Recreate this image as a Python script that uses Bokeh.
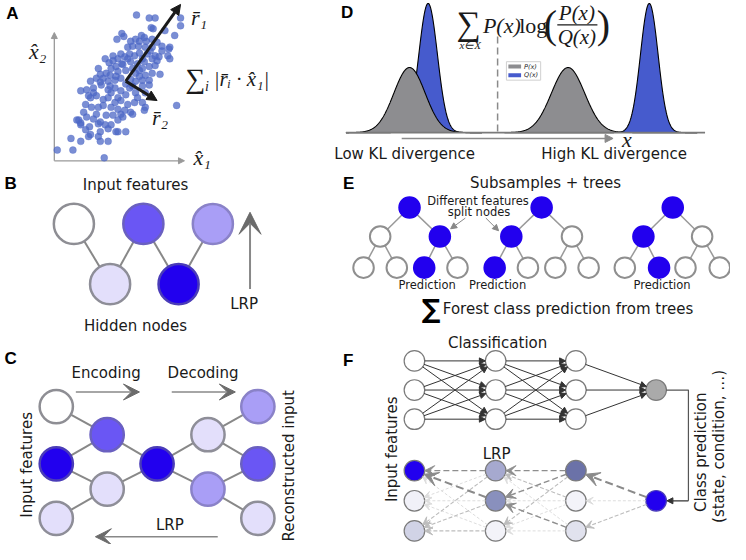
import numpy as np
from bokeh.plotting import figure
from bokeh.models import Range1d, Arrow, VeeHead, NormalHead
from bokeh.core.properties import value
from bokeh.embed import file_html
from bokeh.resources import INLINE

# ======================= DATA =======================
# --- A: scatter of samples (axis units: x1 to the right, x2 upwards from the axis origin)
a_x1 = [84, 97, 103, 129, 129, 99, 101, 113, 69, 64, 71, 89, 92, 83, 78, 87, 94, 100, 123, 105,
        110, 118, 100, 80, 75, 86, 93, 98, 68, 60, 52, 56, 65, 72, 77, 82, 87, 95, 103, 116,
        118, 107, 100, 92, 85, 78, 69, 63, 58, 53, 47, 43, 50, 57, 65, 73, 80, 90, 97, 103,
        108, 100, 93, 87, 83, 78, 68, 62, 55, 47, 90, 97,
        117, 60, 45, 37, 33, 35, 27, 32, 25, 27, 17, 27, 3, 19, 51, 125, 45, 55, 63, 73, 35, 55, 45, 78, 92, 68,
        40, 48, 55, 62, 68, 77, 83, 90, 97, 43, 50, 55, 62, 68, 75, 82, 90, 93, 37, 38, 45, 50, 58, 65, 72, 80,
        70, 65, 58, 52, 47, 40, 33, 36, 32, 27, 47, 65, 37, 47, 53, 60, 43, 30, 23,
        70, 83, 90, 63, 73, 80, 87, 75, 105, 110, 57, 65, 73, 85, 58, 40, 93]
a_x2 = [150, 147, 147, 147, 139, 137, 136, 134, 131, 125, 128, 129, 127, 125, 123, 123, 123, 125, 129, 122,
        118, 117, 117, 118, 117, 118, 117, 113, 110, 108, 105, 101, 105, 107, 110, 108, 111, 110, 108, 108,
        105, 107, 105, 102, 100, 102, 100, 97, 95, 90, 89, 85, 85, 88, 92, 93, 95, 95, 97, 98,
        89, 90, 88, 87, 82, 84, 85, 83, 82, 81, 83, 83,
        115, 103, 95, 82, 73, 67, 72, 58, 42, 39, 23, 20, 11, 11, 3, 57, 25, 20, 30, 30, 25, 33, 38, 50, 52, 48,
        75, 78, 73, 75, 72, 75, 70, 77, 78, 67, 63, 65, 60, 62, 58, 60, 60, 55, 65, 55, 55, 57, 55, 53, 52, 48,
        45, 42, 37, 37, 40, 43, 45, 35, 32, 37, 30, 30, 27, 20, 47, 47, 48, 50, 42,
        99, 90, 105, 87, 79, 77, 93, 105, 103, 113, 77, 65, 68, 65, 70, 70, 70]
a_centre = [73, 82]   # start of the two component vectors
a_r1 = [129, 161]     # tip of r1
a_r2 = [105, 62]      # tip of r2

# --- relevance colour scale for B and C (0 = none ... 4 = highest)
rel_palette = ["#ffffff", "#e3dffb", "#a99ef6", "#6a56f4", "#2200ee"]

# --- B: input features / hidden nodes
b_in_rel = [0, 3, 2]
b_hid_rel = [1, 4]
b_edges = [(0, 0), (1, 0), (1, 1), (2, 1)]

# --- C: autoencoder, relevance per layer
c_rel = [[0, 4, 1], [3, 1], [4], [1, 2], [2, 3, 1]]
c_edges = [((0, 0), (1, 0)), ((0, 1), (1, 0)), ((0, 1), (1, 1)), ((0, 2), (1, 1)),
           ((1, 0), (2, 0)), ((1, 1), (2, 0)), ((2, 0), (3, 0)), ((2, 0), (3, 1)),
           ((3, 0), (4, 0)), ((3, 0), (4, 1)), ((3, 1), (4, 1)), ((3, 1), (4, 2))]

# --- D: densities P (grey) and Q (blue): mean, sd, peak height
d_titles = ["Low KL divergence", "High KL divergence"]
d_p_mean = [418, 580]
d_p_sd = [16.0, 17.0]
d_p_peak = [67, 67]
d_q_mean = [437, 663]
d_q_sd = [9.5, 9.0]
d_q_peak = [133, 133]

# --- E: three trees (7 nodes each: root, 2 children, 4 leaves); 1 = split on feature / prediction
e_selected = [[1, 0, 1, 0, 0, 1, 0],
              [1, 1, 0, 1, 0, 0, 0],
              [1, 1, 0, 0, 1, 0, 0]]
e_prediction_leaf = [5, 3, 4]

# --- F: classifier and LRP relevances
f_lrp_colors = [["#2200ee", "#f1f1f8", "#d1d3e6"],
                ["#a6a9cf", "#8990bd", "#f3f3f9"],
                ["#6b72a8", "#f3f3f9", "#e1e2ee"]]
f_out_color = "#2200ee"
# relevance flow strength (0 faint .. 3 strong), [from row][to row]
f_rel_out = [3, 0, 1]
f_rel_32 = [[2, 2, 1], [1, 0, 0], [0, 2, 0]]
f_rel_21 = [[2, 0, 1], [3, 0, 1], [0, 0, 1]]

# ======================= LAYOUT / STYLE =======================
W, H = 746, 560
p = figure(width=730, height=544, x_range=Range1d(0, W), y_range=Range1d(H, 0),
           x_axis_type=None, y_axis_type=None, output_backend="svg",
           toolbar_location=None, min_border=0)
p.grid.visible = False
p.outline_line_color = None
p.background_fill_color = "white"

SANS = "DejaVu Sans"
SERIF = "Liberation Serif"
TXT = "#1a1a1a"


def txt(x, y, s, size=15, font=SANS, align="center", baseline="middle", color=TXT, style="normal", angle=0.0):
    p.text(x=[x], y=[y], text=[s], text_font=value(font), text_font_size=f"{size}px",
           text_align=align, text_baseline=baseline, text_color=color, text_font_style=style, angle=angle)


def arrow(x0, y0, x1, y1, color, width=1.5, head="vee", size=10, dash="solid", head_color=None):
    hc = head_color or color
    if head == "vee":
        h = VeeHead(size=size, fill_color=hc, line_color=hc, line_width=1)
    else:
        h = NormalHead(size=size, fill_color=hc, line_color=hc, line_width=1)
    p.add_layout(Arrow(end=h, x_start=x0, y_start=y0, x_end=x1, y_end=y1,
                       line_color=color, line_width=width, line_dash=dash))


def panel_letter(x, y, s):
    txt(x, y, s, size=17, font="Liberation Sans", align="left", style="bold", color="black")


# ---------------- Panel A ----------------
OX, OY = 55, 165
p.line([OX, OX], [OY, 36], line_color="#999999", line_width=1.3)
p.line([OX, 184], [OY, OY], line_color="#999999", line_width=1.3)
arrow(OX, 40, OX, 33, "#999999", width=1.3, head="normal", size=6)
arrow(182, OY, 188, OY, "#999999", width=1.3, head="normal", size=6)
sx = [OX + v for v in a_x1]
sy = [OY - v for v in a_x2]
p.scatter(sx, sy, size=7, fill_color="#4d68c6", fill_alpha=0.75, line_color="#4d68c6", line_alpha=0.3)
cx, cy = OX + a_centre[0], OY - a_centre[1]
arrow(cx, cy, OX + a_r1[0], OY - a_r1[1], "#1a1a1a", width=3, head="normal", size=10)
arrow(cx, cy, OX + a_r2[0], OY - a_r2[1], "#1a1a1a", width=3, head="normal", size=10)
panel_letter(6, 13, "A")
txt(38, 52, "x\u0302\u2082", size=22, font=SERIF, style="italic")
txt(206, 162, "x\u0302\u2081", size=22, font=SERIF, style="italic")
txt(203, 17, "r\u0304\u2081", size=22, font=SERIF, style="italic")
txt(163, 120, "r\u0304\u2082", size=22, font=SERIF, style="italic")
txt(199, 80, "\u2211", size=28, font=SERIF)
txt(211, 89, "i", size=14, font=SERIF, style="italic")
txt(218, 81, "|r\u0304\u1d62 \u00b7 x\u0302\u2081|", size=21, font=SERIF, style="italic", align="left")

# ---------------- Panel B ----------------
b_in_x, b_in_y = [75, 146, 217], 230
b_hid_x, b_hid_y = [112, 182], 292
for i, j in b_edges:
    p.line([b_in_x[i], b_hid_x[j]], [b_in_y, b_hid_y], line_color="#888888", line_width=2)


def node_stroke(level):
    return ["#8e8e94", "#8e8e98", "#8a82c8", "#6a60c0", "#4a3cb8"][level]


p.circle(b_in_x, [b_in_y] * 3, radius=20.5, fill_color=[rel_palette[r] for r in b_in_rel],
         line_color=[node_stroke(r) for r in b_in_rel], line_width=2.5)
p.circle(b_hid_x, [b_hid_y] * 2, radius=20.5, fill_color=[rel_palette[r] for r in b_hid_rel],
         line_color=[node_stroke(r) for r in b_hid_rel], line_width=2.5)
arrow(255, 297, 255, 218, "#888888", width=2, head="vee", size=22, head_color="#6b6b6b")
panel_letter(4, 188, "B")
txt(138, 190, "Input features")
txt(138, 335, "Hidden nodes")
txt(249, 312, "LRP")

# ---------------- Panel C ----------------
c_x = [57, 109, 160, 212, 263]
c_y = [[418, 477, 533], [447, 503], [477], [447, 503], [418, 477, 533]]
for (l0, r0), (l1, r1) in c_edges:
    p.line([c_x[l0], c_x[l1]], [c_y[l0][r0], c_y[l1][r1]], line_color="#888888", line_width=2)
for li, rels in enumerate(c_rel):
    p.circle([c_x[li]] * len(rels), c_y[li], radius=17, fill_color=[rel_palette[r] for r in rels],
             line_color=[node_stroke(r) for r in rels], line_width=2.5)
arrow(77, 403, 142, 403, "#888888", width=1.6, head="vee", size=16, head_color="#6b6b6b")
arrow(175, 403, 240, 403, "#888888", width=1.6, head="vee", size=16, head_color="#6b6b6b")
arrow(222, 552, 97, 552, "#888888", width=1.6, head="vee", size=16, head_color="#6b6b6b")
panel_letter(4, 369, "C")
txt(108, 383, "Encoding")
txt(207, 383, "Decoding")
txt(173, 540, "LRP")
txt(27, 478, "Input features", angle=np.pi / 2)
txt(295, 479, "Reconstructed input", angle=np.pi / 2)

# ---------------- Panel D ----------------
BASE = 136
ranges = [(353, 492), (515, 712)]
for k in range(2):
    xs = np.linspace(ranges[k][0], ranges[k][1], 400)
    q = d_q_peak[k] * np.exp(-0.5 * ((xs - d_q_mean[k]) / d_q_sd[k]) ** 2)
    pp = d_p_peak[k] * np.exp(-0.5 * ((xs - d_p_mean[k]) / d_p_sd[k]) ** 2)
    px = np.concatenate([xs, xs[::-1]])
    p.patch(px, np.concatenate([BASE - q, np.full_like(xs, BASE)]), fill_color="#465bcd",
            line_color=None)
    p.line(xs, BASE - q, line_color="black", line_width=1.1)
    p.patch(px, np.concatenate([BASE - pp, np.full_like(xs, BASE)]), fill_color="#8d8d90",
            line_color=None)
    p.line(xs, BASE - pp, line_color="black", line_width=1.1)
p.line([353, 720], [BASE, BASE], line_color="#7a7a7a", line_width=1.6)
p.line([508, 508], [37, BASE], line_color="#8a8a8a", line_width=1.5, line_dash="7 4")
arrow(410, 142, 626, 142, "#8a8a8a", width=1.5, head="normal", size=8)
txt(640, 143, "x", size=22, font=SERIF, style="italic")
txt(413, 158, d_titles[0])
txt(627, 158, d_titles[1])
panel_letter(348, 12, "D")
# legend
p.quad(left=[517], right=[552], top=[63], bottom=[82], fill_color="white", line_color="#d0d0d0", line_width=1)
p.quad(left=[519], right=[532], top=[66], bottom=[70], fill_color="#8d8d90", line_color=None)
p.quad(left=[519], right=[532], top=[75], bottom=[79], fill_color="#465bcd", line_color=None)
txt(535, 68, "P(x)", size=6.5, align="left", style="italic")
txt(535, 77, "Q(x)", size=6.5, align="left", style="italic")
# KL formula
txt(478, 24, "\u2211", size=34, font=SERIF)
txt(480, 46, "x\u2208X", size=11, font=SERIF, style="italic")
txt(493, 26, "P(x)", size=22, font=SERIF, style="italic", align="left")
txt(530, 26, "log", size=22, font=SERIF, align="left")
txt(562, 25, "(", size=40, font=SERIF, color="#1a1a1a")
txt(616, 25, ")", size=40, font=SERIF, color="#1a1a1a")
txt(589, 13, "P(x)", size=21, font=SERIF, style="italic")
p.line([569, 610], [25, 25], line_color="#1a1a1a", line_width=1.2)
txt(589, 38, "Q(x)", size=21, font=SERIF, style="italic")

# ---------------- Panel E ----------------
e_x = [[418, 388, 449, 371, 405, 433, 467],
       [553, 522, 584, 505, 539, 567, 601],
       [687, 657, 717, 638, 673, 700, 735]]
e_y = [213, 243, 243, 275, 275, 275, 275]
e_parent = [None, 0, 0, 1, 1, 2, 2]
for t in range(3):
    for n in range(1, 7):
        pa = e_parent[n]
        p.line([e_x[t][pa], e_x[t][n]], [e_y[pa], e_y[n]], line_color="#999999", line_width=1.5)
    fills = ["#2200ee" if s else "white" for s in e_selected[t]]
    lines = ["#2200ee" if s else "#8f8f8f" for s in e_selected[t]]
    p.circle(e_x[t], e_y, radius=10.5, fill_color=fills, line_color=lines, line_width=2)
    txt(e_x[t][e_prediction_leaf[t]] + 3, 293, "Prediction", size=11.5)
panel_letter(350, 188, "E")
txt(557, 188, "Subsamples + trees")
txt(488, 206, "Different features", size=11.5)
txt(489, 218, "split nodes", size=11.5)
arrow(475, 224, 460, 235, "#888888", width=1, head="normal", size=6)
arrow(496, 224, 509, 237, "#888888", width=1, head="normal", size=6)
txt(440, 318, "\u2211", size=26, font=SANS, style="bold", color="black")
txt(452, 318, "Forest class prediction from trees", align="left")

# ---------------- Panel F ----------------
f_x = [423, 506, 588, 670]
f_up_y = [371, 401, 431]
f_lo_y = [484, 515, 546]
RF = 10.5


def edge_pts(x0, y0, x1, y1, r0=RF, r1=RF):
    d = np.hypot(x1 - x0, y1 - y0)
    ux, uy = (x1 - x0) / d, (y1 - y0) / d
    return x0 + ux * r0, y0 + uy * r0, x1 - ux * r1, y1 - uy * r1


for L in range(2):
    for i in range(3):
        for j in range(3):
            a, b, c, d = edge_pts(f_x[L], f_up_y[i], f_x[L + 1], f_up_y[j])
            arrow(a, b, c, d, "#333333", width=1, head="normal", size=6)
for i in range(3):
    a, b, c, d = edge_pts(f_x[2], f_up_y[i], f_x[3], 401)
    arrow(a, b, c, d, "#333333", width=1, head="normal", size=6)

lvl_color = ["#dddddd", "#bdbdbd", "#8e8e8e", "#8a8a8a"]
lvl_width = [1, 1.1, 1.4, 2.0]
lvl_dash = ["3 2", "4 2", "6 3", "8 4"]
lvl_head = [7, 8, 10, 14]


def lrp_arrow(x0, y0, x1, y1, lv):
    a, b, c, d = edge_pts(x0, y0, x1, y1)
    arrow(a, b, c, d, lvl_color[lv], width=lvl_width[lv], head="vee", size=lvl_head[lv], dash=lvl_dash[lv])


# draw faint ones first
for order in range(4):
    for j in range(3):
        if f_rel_out[j] == order:
            lrp_arrow(f_x[3], 515, f_x[2], f_lo_y[j], order)
    for i in range(3):
        for j in range(3):
            if f_rel_32[i][j] == order:
                lrp_arrow(f_x[2], f_lo_y[i], f_x[1], f_lo_y[j], order)
            if f_rel_21[i][j] == order:
                lrp_arrow(f_x[1], f_lo_y[i], f_x[0], f_lo_y[j], order)

for L in range(3):
    p.circle([f_x[L]] * 3, f_up_y, radius=RF, fill_color="white", line_color="#7a7a7a", line_width=1.2)
p.circle([f_x[3]], [401], radius=RF, fill_color="#aaaaaa", line_color="#7a7a7a", line_width=1.2)
for L in range(3):
    p.circle([f_x[L]] * 3, f_lo_y, radius=RF, fill_color=f_lrp_colors[L], line_color="#7a7a7a", line_width=1.2)
p.circle([f_x[3]], [515], radius=RF, fill_color=f_out_color, line_color="#4a3cb8", line_width=1.2)

p.line([f_x[3] + RF, 703, 703], [401, 401, 515], line_color="#555555", line_width=1.2)
arrow(703, 515, f_x[3] + RF + 0.5, 515, "#333333", width=1.2, head="normal", size=6)

panel_letter(350, 371, "F")
txt(508, 353, "Classification")
txt(507, 467, "LRP")
txt(400, 462, "Input features", angle=np.pi / 2)
txt(716, 465, "Class prediction", angle=np.pi / 2)
txt(734, 459, "(state, condition, \u2026)", angle=np.pi / 2)

open("out.html", "w").write(file_html(p, INLINE))
